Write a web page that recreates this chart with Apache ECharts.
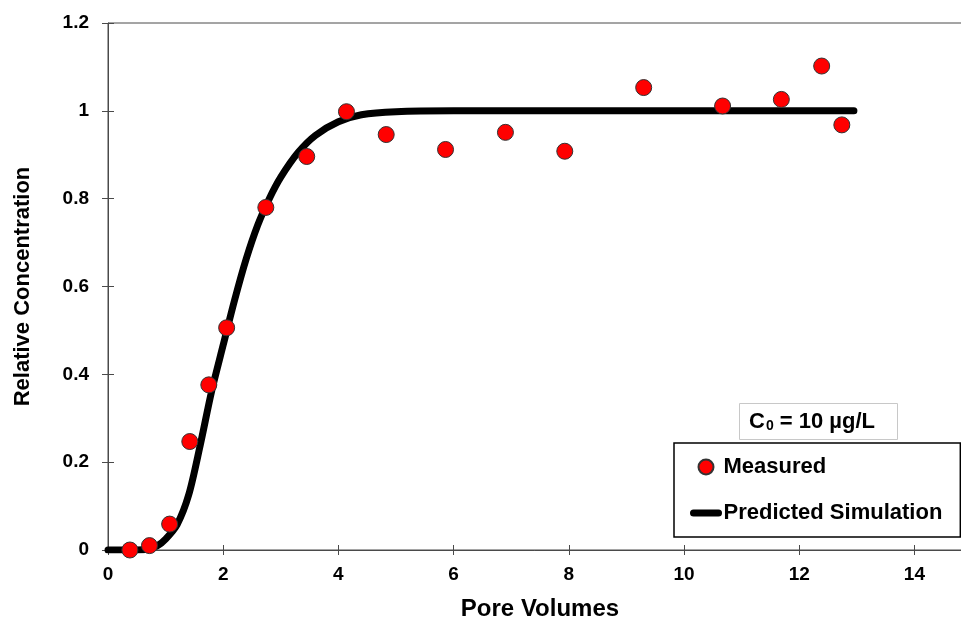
<!DOCTYPE html>
<html>
<head>
<meta charset="utf-8">
<script src="https://cdn.jsdelivr.net/npm/echarts@6/dist/echarts.min.js"></script>
<style>html,body{margin:0;padding:0;background:#fff}#c{width:961px;height:621px}</style>
</head>
<body>
<div id="c"></div>
<script>
var measuredX = [0.38, 0.72, 1.07, 1.42, 1.75, 2.06, 2.74, 3.45, 4.14, 4.83, 5.86, 6.90, 7.93, 9.30, 10.67, 11.69, 12.39, 12.74];
var measuredY = [0.0, 0.01, 0.059, 0.247, 0.376, 0.506, 0.78, 0.896, 0.998, 0.946, 0.912, 0.951, 0.908, 1.053, 1.011, 1.026, 1.102, 0.968];
var simX = [0, 0.5, 0.7, 0.85, 1.0, 1.2, 1.4, 1.6, 1.8, 2.0, 2.2, 2.4, 2.6, 2.8, 3.0, 3.3, 3.6, 4.0, 4.4, 5.0, 6.0, 8.0, 10.0, 12.95];
var simY = [0, 0, 0.002, 0.009, 0.025, 0.058, 0.125, 0.238, 0.362, 0.467, 0.57, 0.663, 0.74, 0.80, 0.849, 0.905, 0.944, 0.975, 0.991, 0.998, 1.0, 1.0, 1.0, 1.0];
var seriesNames = ['Measured', 'Predicted Simulation'];
var xTitle = 'Pore Volumes';
var yTitle = 'Relative Concentration';

var FONT = '"Liberation Sans", Arial, sans-serif';
var chart = echarts.init(document.getElementById('c'), null, {renderer: 'canvas'});
function zip(a, b) { return a.map(function (v, i) { return [v, b[i]]; }); }
var axisCol = '#4a4a4a';
chart.setOption({
  animation: false,
  backgroundColor: '#fff',
  textStyle: {fontFamily: FONT},
  grid: {left: 108, top: 23, width: 864, height: 527, containLabel: false, outerBoundsMode: 'none',
    show: true, borderColor: axisCol, borderWidth: 1, backgroundColor: 'transparent'},
  title: {
    text: '{a|C}{s|0}{a| = 10 µg/L}',
    left: 739, top: 403,
    padding: [7, 23, 7, 10],
    borderColor: '#c8c8c8', borderWidth: 1,
    textStyle: {rich: {
      a: {fontFamily: FONT, fontSize: 22, fontWeight: 'bold', color: '#000'},
      s: {fontFamily: FONT, fontSize: 14, fontWeight: 'bold', color: '#000', verticalAlign: 'bottom', padding: [9, 0, 0, 1]}
    }}
  },
  legend: {
    orient: 'vertical',
    left: 674, top: 443,
    padding: [13, 18, 13, 16],
    itemGap: 24,
    itemWidth: 25, itemHeight: 15,
    borderColor: '#000', borderWidth: 1.5,
    textStyle: {fontFamily: FONT, fontSize: 22, fontWeight: 'bold', color: '#000'},
    data: [
      {name: seriesNames[0], icon: 'circle'},
      {name: seriesNames[1], itemStyle: {color: 'rgba(0,0,0,0)', borderWidth: 0, opacity: 0},
        lineStyle: {color: '#000', width: 7, cap: 'round', opacity: 1}}
    ]
  },
  xAxis: [{
    type: 'value', min: 0, max: 15, interval: 2, position: 'bottom',
    name: xTitle, nameLocation: 'middle', nameGap: 47,
    nameTextStyle: {fontFamily: FONT, fontSize: 24, fontWeight: 'bold', color: '#000'},
    axisLine: {show: true, onZero: false, lineStyle: {color: axisCol, width: 1}},
    axisTick: {show: true, inside: false, length: 5, lineStyle: {color: axisCol, width: 1}},
    axisLabel: {fontFamily: FONT, fontSize: 19, fontWeight: 'bold', color: '#000', margin: 15, showMaxLabel: false},
    splitLine: {show: false}
  }, {
    type: 'value', min: 0, max: 15, interval: 2, position: 'bottom',
    axisLine: {show: false, onZero: false},
    axisTick: {show: true, inside: true, length: 5, lineStyle: {color: axisCol, width: 1}},
    axisLabel: {show: false},
    splitLine: {show: false}
  }],
  yAxis: [{
    type: 'value', min: 0, max: 1.2, interval: 0.2, position: 'left',
    name: yTitle, nameLocation: 'middle', nameGap: 74,
    nameTextStyle: {fontFamily: FONT, fontSize: 22, fontWeight: 'bold', color: '#000'},
    axisLine: {show: true, onZero: false, lineStyle: {color: axisCol, width: 1}},
    axisTick: {show: true, inside: false, length: 6, lineStyle: {color: axisCol, width: 1}},
    axisLabel: {fontFamily: FONT, fontSize: 19, fontWeight: 'bold', color: '#000', margin: 19,
      formatter: function (v) { return String(Math.round(v * 10) / 10); }},
    splitLine: {show: false}
  }, {
    type: 'value', min: 0, max: 1.2, interval: 0.2, position: 'left',
    axisLine: {show: false, onZero: false},
    axisTick: {show: true, inside: true, length: 6, lineStyle: {color: axisCol, width: 1}},
    axisLabel: {show: false},
    splitLine: {show: false}
  }],
  series: [{
    name: seriesNames[1],
    type: 'line',
    xAxisIndex: 0, yAxisIndex: 0,
    data: zip(simX, simY),
    showSymbol: false, symbol: 'none',
    smooth: 0.3,
    lineStyle: {color: '#000', width: 7, cap: 'round', join: 'round'},
    itemStyle: {color: '#000'},
    z: 2
  }, {
    name: seriesNames[0],
    type: 'scatter',
    xAxisIndex: 0, yAxisIndex: 0,
    data: zip(measuredX, measuredY),
    symbol: 'circle', symbolSize: 16,
    itemStyle: {color: '#ff0000', borderColor: '#333', borderWidth: 1, opacity: 1},
    z: 3
  }]
});
</script>
</body>
</html>
